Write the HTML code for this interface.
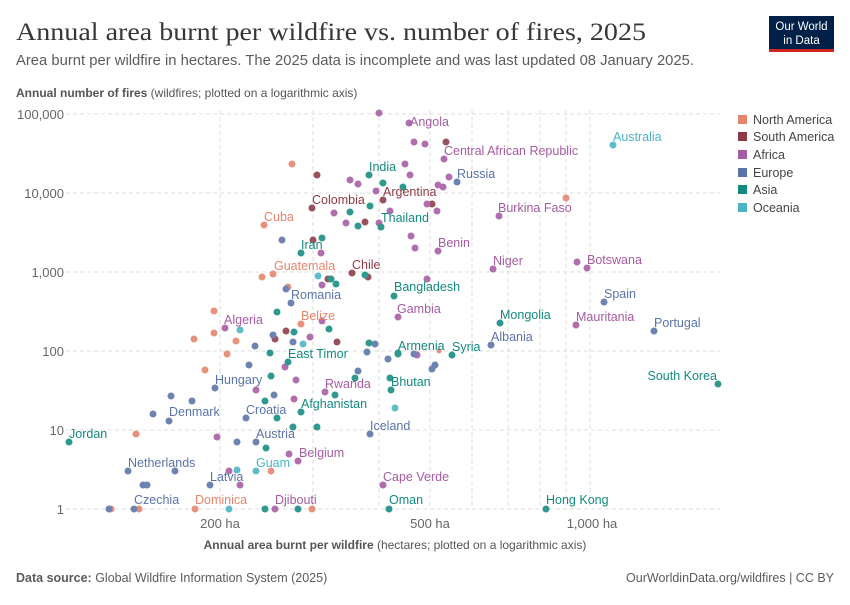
<!DOCTYPE html>
<html><head><meta charset="utf-8"><style>
body{margin:0;background:#fff;}
svg text{font-family:"Liberation Sans",sans-serif;}
</style></head><body>
<svg width="850" height="600" xmlns="http://www.w3.org/2000/svg">
<rect width="850" height="600" fill="#fff"/>
<text x="16" y="40" font-family="Liberation Serif" font-size="25" fill="#373737" textLength="630" lengthAdjust="spacingAndGlyphs" style="font-family:'Liberation Serif',serif">Annual area burnt per wildfire vs. number of fires, 2025</text>
<text x="16" y="65" font-size="14.5" fill="#5b5b5b" textLength="678" lengthAdjust="spacingAndGlyphs">Area burnt per wildfire in hectares. The 2025 data is incomplete and was last updated 08 January 2025.</text>
<rect x="769" y="16" width="65" height="34" fill="#002147"/>
<rect x="769" y="49" width="65" height="3" fill="#ce261e"/>
<text x="801.5" y="30" font-size="11.5" fill="#fff" text-anchor="middle">Our World</text>
<text x="801.5" y="44" font-size="11.5" fill="#fff" text-anchor="middle">in Data</text>
<text x="16" y="97" font-size="12" fill="#555"><tspan font-weight="bold">Annual number of fires</tspan> (wildfires; plotted on a logarithmic axis)</text>
<g stroke="#dddddd" stroke-dasharray="4,3" stroke-width="1">
<line x1="66" y1="114" x2="720" y2="114"/><line x1="66" y1="193" x2="720" y2="193"/><line x1="66" y1="272" x2="720" y2="272"/><line x1="66" y1="351" x2="720" y2="351"/><line x1="66" y1="430" x2="720" y2="430"/><line x1="66" y1="509" x2="720" y2="509"/>
<line x1="220" y1="110" x2="220" y2="509"/><line x1="313" y1="110" x2="313" y2="509"/><line x1="379" y1="110" x2="379" y2="509"/><line x1="430" y1="110" x2="430" y2="509"/><line x1="472" y1="110" x2="472" y2="509"/><line x1="508" y1="110" x2="508" y2="509"/><line x1="540" y1="110" x2="540" y2="509"/><line x1="566" y1="110" x2="566" y2="509"/><line x1="590" y1="110" x2="590" y2="509"/>
</g>
<g font-size="13" fill="#666" text-anchor="end">
<text x="64" y="119">100,000</text><text x="64" y="198">10,000</text><text x="64" y="277">1,000</text><text x="64" y="356">100</text><text x="64" y="435">10</text><text x="64" y="514">1</text>
</g>
<g font-size="13" fill="#666" text-anchor="middle">
<text x="220" y="528">200 ha</text><text x="430" y="528">500 ha</text><text x="592" y="528">1,000 ha</text>
</g>
<text x="395" y="549" font-size="12" fill="#555" text-anchor="middle"><tspan font-weight="bold">Annual area burnt per wildfire</tspan> (hectares; plotted on a logarithmic axis)</text>
<text x="16" y="582" font-size="12.5" fill="#5b5b5b"><tspan font-weight="bold">Data source:</tspan> Global Wildfire Information System (2025)</text>
<text x="834" y="582" font-size="12.5" fill="#5b5b5b" text-anchor="end">OurWorldinData.org/wildfires | CC BY</text>
<g font-size="12.5" fill="#444">
<rect x="738" y="115" width="9" height="9" fill="#e5846c"/><text x="753" y="124">North America</text>
<rect x="738" y="132" width="9" height="9" fill="#8e3a46"/><text x="753" y="141">South America</text>
<rect x="738" y="150" width="9" height="9" fill="#a65ba3"/><text x="753" y="159">Africa</text>
<rect x="738" y="168" width="9" height="9" fill="#5a74a8"/><text x="753" y="177">Europe</text>
<rect x="738" y="185" width="9" height="9" fill="#138a80"/><text x="753" y="194">Asia</text>
<rect x="738" y="203" width="9" height="9" fill="#4ab4c4"/><text x="753" y="212">Oceania</text>
</g>
<g opacity="0.88">
<!-- North America -->
<g fill="#e5846c">
<circle cx="292" cy="164" r="3.5"/><circle cx="264" cy="225" r="3.5"/><circle cx="262" cy="277" r="3.5"/><circle cx="273" cy="274" r="3.5"/><circle cx="288" cy="287" r="3.5"/><circle cx="214" cy="311" r="3.5"/><circle cx="301" cy="324" r="3.5"/><circle cx="194" cy="339" r="3.5"/><circle cx="214" cy="333" r="3.5"/><circle cx="236" cy="341" r="3.5"/><circle cx="227" cy="354" r="3.5"/><circle cx="205" cy="370" r="3.5"/><circle cx="136" cy="434" r="3.5"/><circle cx="271" cy="471" r="3.5"/><circle cx="111" cy="509" r="3.5"/><circle cx="139" cy="509" r="3.5"/><circle cx="195" cy="509" r="3.5"/><circle cx="312" cy="509" r="3.5"/><circle cx="566" cy="198" r="3.5"/><circle cx="439" cy="351" r="2.5"/>
</g>
<!-- South America -->
<g fill="#8e3a46">
<circle cx="317" cy="175" r="3.5"/><circle cx="383" cy="200" r="3.5"/><circle cx="312" cy="208" r="3.5"/><circle cx="365" cy="222" r="3.5"/><circle cx="313" cy="240" r="3.5"/><circle cx="328" cy="279" r="3.5"/><circle cx="352" cy="273" r="3.5"/><circle cx="368" cy="277" r="3.5"/><circle cx="275" cy="339" r="3.5"/><circle cx="286" cy="331" r="3.5"/><circle cx="337" cy="342" r="3.5"/><circle cx="446" cy="142" r="3.5"/><circle cx="432" cy="204" r="3.5"/>
</g>
<!-- Africa -->
<g fill="#a65ba3">
<circle cx="379" cy="113" r="3.5"/><circle cx="350" cy="180" r="3.5"/><circle cx="358" cy="184" r="3.5"/><circle cx="376" cy="191" r="3.5"/><circle cx="334" cy="213" r="3.5"/><circle cx="390" cy="211" r="3.5"/><circle cx="346" cy="223" r="3.5"/><circle cx="379" cy="223" r="3.5"/><circle cx="321" cy="253" r="3.5"/><circle cx="322" cy="285" r="3.5"/><circle cx="225" cy="328" r="3.5"/><circle cx="322" cy="321" r="3.5"/><circle cx="310" cy="337" r="3.5"/><circle cx="285" cy="367" r="3.5"/><circle cx="296" cy="380" r="3.5"/><circle cx="256" cy="390" r="3.5"/><circle cx="325" cy="392" r="3.5"/><circle cx="294" cy="399" r="3.5"/><circle cx="217" cy="437" r="3.5"/><circle cx="289" cy="454" r="3.5"/><circle cx="298" cy="461" r="3.5"/><circle cx="229" cy="471" r="3.5"/><circle cx="240" cy="485" r="3.5"/><circle cx="383" cy="485" r="3.5"/><circle cx="275" cy="509" r="3.5"/>
<circle cx="409" cy="123" r="3.5"/><circle cx="414" cy="142" r="3.5"/><circle cx="425" cy="144" r="3.5"/><circle cx="444" cy="159" r="3.5"/><circle cx="405" cy="164" r="3.5"/><circle cx="410" cy="175" r="3.5"/><circle cx="449" cy="177" r="3.5"/><circle cx="438" cy="185" r="3.5"/><circle cx="443" cy="187" r="3.5"/><circle cx="427" cy="204" r="3.5"/><circle cx="437" cy="211" r="3.5"/><circle cx="499" cy="216" r="3.5"/><circle cx="411" cy="236" r="3.5"/><circle cx="415" cy="248" r="3.5"/><circle cx="438" cy="251" r="3.5"/><circle cx="493" cy="269" r="3.5"/><circle cx="577" cy="262" r="3.5"/><circle cx="587" cy="268" r="3.5"/><circle cx="427" cy="279" r="3.5"/><circle cx="398" cy="317" r="3.5"/><circle cx="576" cy="325" r="3.5"/><circle cx="417" cy="355" r="3.5"/>
</g>
<!-- Europe -->
<g fill="#5a74a8">
<circle cx="282" cy="240" r="3.5"/><circle cx="286" cy="289" r="3.5"/><circle cx="291" cy="303" r="3.5"/><circle cx="255" cy="346" r="3.5"/><circle cx="273" cy="335" r="3.5"/><circle cx="293" cy="342" r="3.5"/><circle cx="367" cy="352" r="3.5"/><circle cx="375" cy="344" r="3.5"/><circle cx="249" cy="365" r="3.5"/><circle cx="358" cy="371" r="3.5"/><circle cx="388" cy="359" r="3.5"/><circle cx="215" cy="388" r="3.5"/><circle cx="274" cy="395" r="3.5"/><circle cx="171" cy="396" r="3.5"/><circle cx="192" cy="401" r="3.5"/><circle cx="153" cy="414" r="3.5"/><circle cx="169" cy="421" r="3.5"/><circle cx="246" cy="418" r="3.5"/><circle cx="237" cy="442" r="3.5"/><circle cx="256" cy="442" r="3.5"/><circle cx="370" cy="434" r="3.5"/><circle cx="128" cy="471" r="3.5"/><circle cx="175" cy="471" r="3.5"/><circle cx="143" cy="485" r="3.5"/><circle cx="147" cy="485" r="3.5"/><circle cx="210" cy="485" r="3.5"/><circle cx="109" cy="509" r="3.5"/><circle cx="134" cy="509" r="3.5"/>
<circle cx="457" cy="182" r="3.5"/><circle cx="604" cy="302" r="3.5"/><circle cx="654" cy="331" r="3.5"/><circle cx="491" cy="345" r="3.5"/><circle cx="414" cy="354" r="3.5"/><circle cx="435" cy="365" r="3.5"/><circle cx="432" cy="369" r="3.5"/>
</g>
<!-- Asia -->
<g fill="#138a80">
<circle cx="369" cy="175" r="3.5"/><circle cx="383" cy="183" r="3.5"/><circle cx="350" cy="212" r="3.5"/><circle cx="370" cy="206" r="3.5"/><circle cx="358" cy="226" r="3.5"/><circle cx="381" cy="227" r="3.5"/><circle cx="322" cy="238" r="3.5"/><circle cx="301" cy="253" r="3.5"/><circle cx="331" cy="279" r="3.5"/><circle cx="336" cy="284" r="3.5"/><circle cx="365" cy="275" r="3.5"/><circle cx="394" cy="296" r="3.5"/><circle cx="277" cy="312" r="3.5"/><circle cx="329" cy="329" r="3.5"/><circle cx="294" cy="332" r="3.5"/><circle cx="270" cy="353" r="3.5"/><circle cx="288" cy="362" r="3.5"/><circle cx="369" cy="343" r="3.5"/><circle cx="398" cy="353" r="3.5"/><circle cx="271" cy="376" r="3.5"/><circle cx="355" cy="378" r="3.5"/><circle cx="335" cy="395" r="3.5"/><circle cx="391" cy="390" r="3.5"/><circle cx="265" cy="401" r="3.5"/><circle cx="301" cy="412" r="3.5"/><circle cx="277" cy="418" r="3.5"/><circle cx="69" cy="442" r="3.5"/><circle cx="266" cy="448" r="3.5"/><circle cx="293" cy="427" r="3.5"/><circle cx="317" cy="427" r="3.5"/><circle cx="265" cy="509" r="3.5"/><circle cx="298" cy="509" r="3.5"/><circle cx="389" cy="509" r="3.5"/>
<circle cx="403" cy="187" r="3.5"/><circle cx="500" cy="323" r="3.5"/><circle cx="398" cy="354" r="3.5"/><circle cx="452" cy="355" r="3.5"/><circle cx="718" cy="384" r="3.5"/><circle cx="390" cy="378" r="3.5"/><circle cx="546" cy="509" r="3.5"/>
</g>
<!-- Oceania -->
<g fill="#4ab4c4">
<circle cx="318" cy="276" r="3.5"/><circle cx="240" cy="330" r="3.5"/><circle cx="303" cy="344" r="3.5"/><circle cx="237" cy="470" r="3.5"/><circle cx="256" cy="471" r="3.5"/><circle cx="229" cy="509" r="3.5"/><circle cx="613" cy="145" r="3.5"/><circle cx="395" cy="408" r="3.5"/>
</g>
</g>
<g font-size="12.5">
<g fill="#a65ba3">
<text x="410" y="126">Angola</text><text x="444" y="155">Central African Republic</text><text x="498" y="212">Burkina Faso</text><text x="438" y="247">Benin</text><text x="493" y="265">Niger</text><text x="587" y="264">Botswana</text><text x="397" y="313">Gambia</text><text x="576" y="321">Mauritania</text><text x="224" y="324">Algeria</text><text x="325" y="388">Rwanda</text><text x="299" y="457">Belgium</text><text x="383" y="481">Cape Verde</text><text x="275" y="504">Djibouti</text>
</g>
<g fill="#8e3a46">
<text x="383" y="196">Argentina</text><text x="312" y="204">Colombia</text><text x="352" y="269">Chile</text>
</g>
<g fill="#e5846c">
<text x="264" y="221">Cuba</text><text x="274" y="270">Guatemala</text><text x="301" y="320">Belize</text><text x="195" y="504">Dominica</text>
</g>
<g fill="#4ab4c4">
<text x="613" y="141">Australia</text><text x="256" y="467">Guam</text>
</g>
<g fill="#5a74a8">
<text x="457" y="178">Russia</text><text x="291" y="299">Romania</text><text x="604" y="298">Spain</text><text x="654" y="327">Portugal</text><text x="491" y="341">Albania</text><text x="215" y="384">Hungary</text><text x="169" y="416">Denmark</text><text x="246" y="414">Croatia</text><text x="370" y="430">Iceland</text><text x="256" y="438">Austria</text><text x="128" y="467">Netherlands</text><text x="210" y="481">Latvia</text><text x="134" y="504">Czechia</text>
</g>
<g fill="#138a80">
<text x="369" y="171">India</text><text x="381" y="222">Thailand</text><text x="301" y="249">Iran</text><text x="394" y="291">Bangladesh</text><text x="500" y="319">Mongolia</text><text x="398" y="350">Armenia</text><text x="452" y="351">Syria</text><text x="288" y="358">East Timor</text><text x="717" y="380" text-anchor="end">South Korea</text><text x="391" y="386">Bhutan</text><text x="301" y="408">Afghanistan</text><text x="69" y="438">Jordan</text><text x="389" y="504">Oman</text><text x="546" y="504">Hong Kong</text>
</g>
</g>
</svg>
</body></html>
